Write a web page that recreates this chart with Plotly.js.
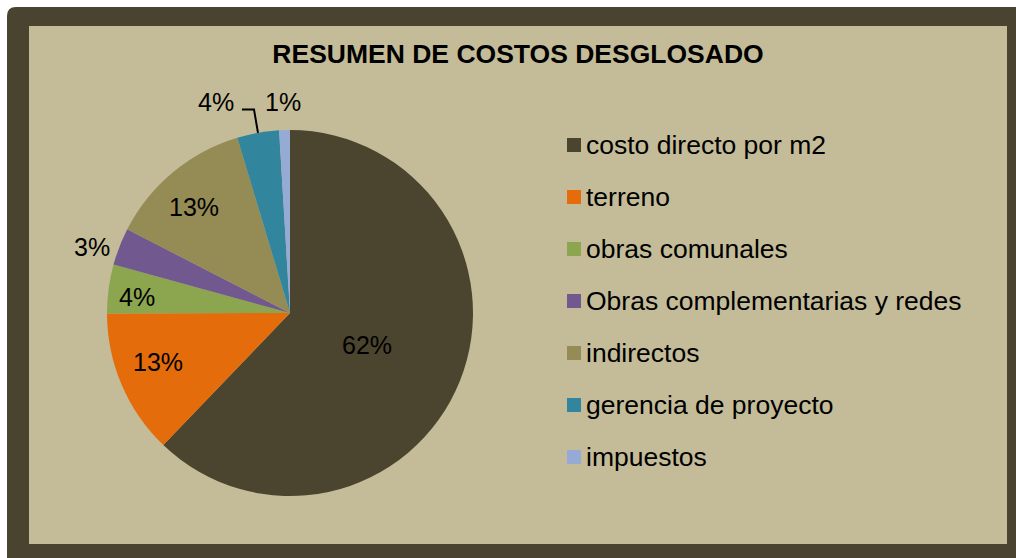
<!DOCTYPE html>
<html>
<head>
<meta charset="utf-8">
<script src="https://cdn.plot.ly/plotly-3.0.1.min.js"></script>
<style>html,body{margin:0;padding:0;background:#fff;}#chart{width:1016px;height:558px;}</style>
</head>
<body>
<div id="chart"></div>
<script>
// ---- data ----
const categories = ["costo directo por m2", "terreno", "obras comunales", "Obras complementarias y redes", "indirectos", "gerencia de proyecto", "impuestos"];
const values = [62.2, 12.8, 4.3, 3.3, 12.8, 3.7, 0.95];
const sliceColors = ["#4b442f", "#e46c0a", "#8ca64f", "#71598f", "#958b55", "#31859c", "#95abd5"];
const chartTitle = "RESUMEN DE COSTOS DESGLOSADO";

// ---- label placement style (radius factor, angle shift in degrees) ----
const labelRadius = [0.455, 0.77, 0.84, 1.14, 0.78, 1.22, 1.153];
const labelShift = [0.5, 2.6, -1.7, -2.9, -2.4, -9.3, -0.3];
const leaderFor = [false, false, false, false, false, true, false];

const W = 1016, H = 558;
const px = x => x / W;
const py = y => 1 - y / H;
const FONT = "Liberation Sans, Arial, sans-serif";

// pie geometry (pixels)
const cx = 290, cy = 313, R = 183;

const total = values.reduce((a, b) => a + b, 0);
const annotations = [];
const shapes = [];

// frame
const o = {x0: 7, y0: 7, x1: 1030, y1: 570, r: 9};
shapes.push({
  type: "path", xref: "paper", yref: "paper", layer: "below", line: {width: 0},
  fillcolor: "#4a4330",
  path: `M ${px(o.x0)},${py(o.y0 + o.r)} Q ${px(o.x0)},${py(o.y0)} ${px(o.x0 + o.r)},${py(o.y0)} L ${px(o.x1)},${py(o.y0)} L ${px(o.x1)},${py(o.y1)} L ${px(o.x0)},${py(o.y1)} Z`
});
shapes.push({
  type: "rect", xref: "paper", yref: "paper", layer: "below", line: {width: 0},
  fillcolor: "#c4bc98", x0: px(29), x1: px(1007), y0: py(544), y1: py(26)
});

// percentage labels
let cum = 0;
values.forEach((v, i) => {
  const frac = v / total;
  const mid = (cum + frac / 2) * 360;
  cum += frac;
  const a = (mid + labelShift[i]) * Math.PI / 180;
  const r = R * labelRadius[i];
  const lx = cx + r * Math.sin(a), ly = cy - r * Math.cos(a);
  annotations.push({
    xref: "paper", yref: "paper", x: px(lx), y: py(ly), xanchor: "center", yanchor: "middle",
    text: Math.round(frac * 100) + "%", showarrow: false,
    font: {family: FONT, size: 25, color: "#000"}
  });
  if (leaderFor[i]) {
    const m = mid * Math.PI / 180;
    const ex = cx + R * Math.sin(m), ey = cy - R * Math.cos(m);
    shapes.push({
      type: "path", xref: "paper", yref: "paper", line: {color: "#000", width: 2},
      path: `M ${px(ex)},${py(ey)} L ${px(ex - 4)},${py(ly + 7)} L ${px(lx + 26)},${py(ly + 7)}`
    });
  }
});

// legend (manual, evenly spaced)
const legX = 567, legY0 = 145, legStep = 52, sw = 14;
categories.forEach((c, i) => {
  const y = legY0 + i * legStep;
  shapes.push({
    type: "rect", xref: "paper", yref: "paper", line: {width: 0}, fillcolor: sliceColors[i],
    x0: px(legX), x1: px(legX + sw), y0: py(y + sw / 2), y1: py(y - sw / 2)
  });
  annotations.push({
    xref: "paper", yref: "paper", x: px(legX + 17), y: py(y), xanchor: "left", yanchor: "middle",
    text: c, showarrow: false, font: {family: FONT, size: 26.5, color: "#000"}
  });
});

const trace = {
  type: "pie",
  labels: categories,
  values: values,
  marker: {colors: sliceColors, line: {width: 0}},
  sort: false,
  direction: "clockwise",
  rotation: 0,
  textinfo: "none",
  hoverinfo: "label+percent",
  showlegend: false,
  domain: {x: [px(cx - R), px(cx + R)], y: [py(cy + R), py(cy - R)]}
};

const layout = {
  width: W, height: H,
  margin: {l: 0, r: 0, t: 0, b: 0},
  paper_bgcolor: "#ffffff",
  showlegend: false,
  title: {
    text: chartTitle, x: px(518), xanchor: "center", y: py(54), yanchor: "middle",
    font: {family: FONT, size: 26.5, weight: "bold", color: "#000"}
  },
  shapes: shapes,
  annotations: annotations
};

Plotly.newPlot("chart", [trace], layout, {displayModeBar: false, staticPlot: true});
</script>
</body>
</html>
